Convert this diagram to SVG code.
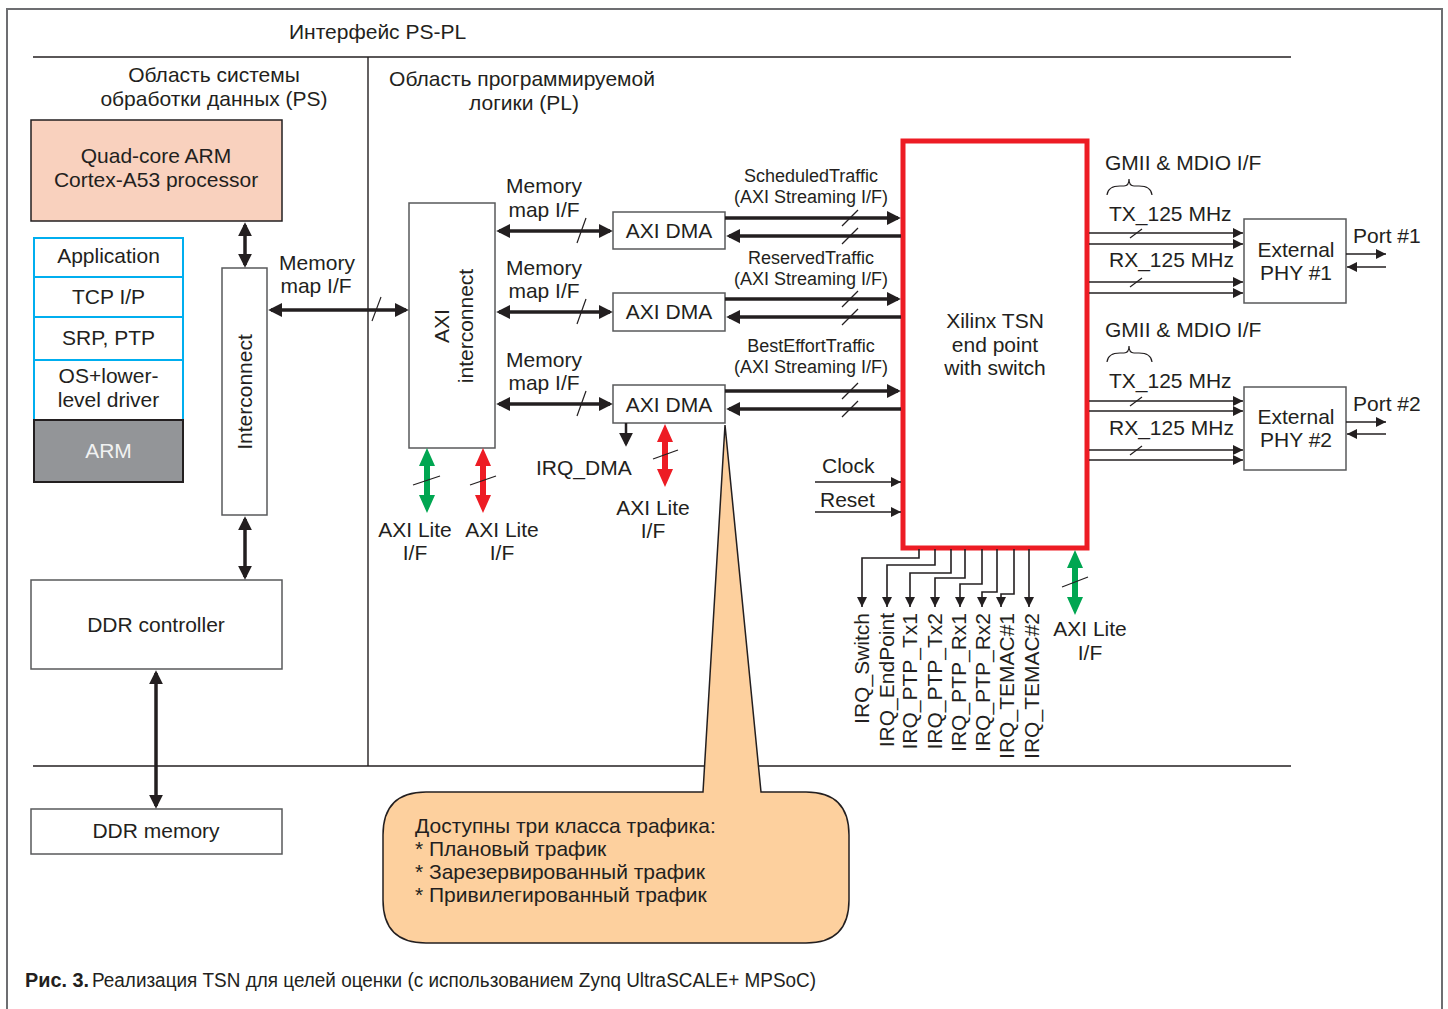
<svg xmlns="http://www.w3.org/2000/svg" width="1448" height="1009" viewBox="0 0 1448 1009">
<style>
text{font-family:"Liberation Sans",Arial,sans-serif;font-size:21px;fill:#231f20}
.m{text-anchor:middle}
.sm{font-size:18px}
.box{fill:#fff;stroke:#58595b;stroke-width:1.5}
.stk{fill:#fff;stroke:#00aeef;stroke-width:2}
.thick{stroke:#231f20;stroke-width:3.5;fill:none}
.thin{stroke:#231f20;stroke-width:1.6;fill:none}
.sl{stroke:#231f20;stroke-width:1.2;fill:none}
.frame{stroke:#6d6e71;stroke-width:2;fill:none}
.div{stroke:#231f20;stroke-width:1.4;fill:none}
</style>
<defs>
<marker id="a" viewBox="0 0 10 10" refX="8" refY="5" markerWidth="14" markerHeight="14" markerUnits="userSpaceOnUse" orient="auto-start-reverse"><path d="M0,0 L10,5 L0,10 z" fill="#231f20"/></marker>
<marker id="s" viewBox="0 0 10 10" refX="10" refY="5" markerWidth="10" markerHeight="10" markerUnits="userSpaceOnUse" orient="auto-start-reverse"><path d="M0,0 L10,5 L0,10 z" fill="#231f20"/></marker>
</defs>

<!-- frame and region lines -->
<g id="frame">
<path class="frame" d="M7,1009 L7,9 L1442,9 L1442,1009"/>
<line class="div" x1="33" y1="57" x2="1291" y2="57"/>
<line class="div" x1="368" y1="57" x2="368" y2="766"/>
<line class="div" x1="33" y1="766" x2="1291" y2="766"/>
<text x="289" y="39">Интерфейс PS-PL</text>
<text class="m" x="214" y="82">Область системы</text>
<text class="m" x="214" y="106">обработки данных (PS)</text>
<text class="m" x="522" y="86">Область программируемой</text>
<text class="m" x="524" y="110">логики (PL)</text>
</g>

<g id="quadcore">
<rect x="31" y="120" width="251" height="101" fill="#f9d1be" stroke="#231f20" stroke-width="1.5"/>
<text class="m" x="156" y="163">Quad-core ARM</text>
<text class="m" x="156" y="187">Cortex-A53 processor</text>
</g>

<g id="stack">
<rect class="stk" x="34" y="238" width="149" height="39"/>
<text class="m" x="108.5" y="263">Application</text>
<rect class="stk" x="34" y="277" width="149" height="40"/>
<text class="m" x="108.5" y="304">TCP I/P</text>
<rect class="stk" x="34" y="317" width="149" height="43"/>
<text class="m" x="108.5" y="345">SRP, PTP</text>
<rect class="stk" x="34" y="360" width="149" height="60"/>
<text class="m" x="108.5" y="383">OS+lower-</text>
<text class="m" x="108.5" y="407">level driver</text>
<rect x="34" y="420" width="149" height="62" fill="#939598" stroke="#231f20" stroke-width="2"/>
<text class="m" x="108.5" y="458" style="fill:#f1f2f2">ARM</text>
</g>

<g id="interconnect">
<rect class="box" x="222" y="268" width="45" height="247"/>
<text class="m" transform="translate(252,392) rotate(-90)">Interconnect</text>
</g>

<g id="ddrctrl">
<rect class="box" x="31" y="580" width="251" height="89"/>
<text class="m" x="156" y="632">DDR controller</text>
</g>

<g id="ddrmem">
<rect class="box" x="31" y="809" width="251" height="45"/>
<text class="m" x="156" y="838">DDR memory</text>
</g>

<g id="axiic">
<rect class="box" x="409" y="203" width="86" height="245"/>
<text class="m" transform="translate(449,326) rotate(-90)">AXI</text>
<text class="m" transform="translate(473,326) rotate(-90)">interconnect</text>
</g>

<g id="dma1">
<rect class="box" x="613" y="212" width="112" height="37"/>
<text class="m" x="669" y="238">AXI DMA</text>
</g>
<g id="dma2">
<rect class="box" x="613" y="293" width="112" height="38"/>
<text class="m" x="669" y="319">AXI DMA</text>
</g>
<g id="dma3">
<rect class="box" x="613" y="385" width="112" height="38"/>
<text class="m" x="669" y="412">AXI DMA</text>
</g>

<g id="tsn">
<rect x="903" y="141" width="184" height="407" fill="#fff" stroke="#ed1c24" stroke-width="5"/>
<text class="m" x="995" y="328">Xilinx TSN</text>
<text class="m" x="995" y="352">end point</text>
<text class="m" x="995" y="375">with switch</text>
</g>

<g id="phy1">
<rect class="box" x="1244" y="219" width="102" height="84"/>
<text class="m" x="1296" y="257">External</text>
<text class="m" x="1296" y="280">PHY #1</text>
</g>
<g id="phy2">
<rect class="box" x="1244" y="387" width="102" height="83"/>
<text class="m" x="1296" y="424">External</text>
<text class="m" x="1296" y="447">PHY #2</text>
</g>

<g id="callout">
<path d="M426,792 L703,792 L725,425 L761,792 L806,792 Q849,792 849,835 L849,900 Q849,943 806,943 L426,943 Q383,943 383,900 L383,835 Q383,792 426,792 Z" fill="#fdd09e" stroke="#231f20" stroke-width="1.5"/>
<text x="415" y="833">Доступны три класса трафика:</text>
<text x="415" y="856">* Плановый трафик</text>
<text x="415" y="879">* Зарезервированный трафик</text>
<text x="415" y="902">* Привилегированный трафик</text>
</g>

<g id="connectors">
<!-- PS side -->
<line class="thick" x1="245" y1="225" x2="245" y2="265" marker-start="url(#a)" marker-end="url(#a)"/>
<line class="thick" x1="245" y1="519" x2="245" y2="577" marker-start="url(#a)" marker-end="url(#a)"/>
<line class="thick" x1="156" y1="673" x2="156" y2="806" marker-start="url(#a)" marker-end="url(#a)"/>
<line class="thick" x1="271" y1="310" x2="406" y2="310" marker-start="url(#a)" marker-end="url(#a)"/>
<line class="sl" x1="372" y1="321" x2="381" y2="297"/>
<text class="m" x="317" y="270">Memory</text>
<text class="m" x="316" y="293">map I/F</text>

<!-- memory map PL -->
<line class="thick" x1="499" y1="231" x2="610" y2="231" marker-start="url(#a)" marker-end="url(#a)"/>
<line class="thick" x1="499" y1="312" x2="610" y2="312" marker-start="url(#a)" marker-end="url(#a)"/>
<line class="thick" x1="499" y1="404" x2="610" y2="404" marker-start="url(#a)" marker-end="url(#a)"/>
<line class="sl" x1="577" y1="243" x2="586" y2="218"/>
<line class="sl" x1="577" y1="324" x2="586" y2="299"/>
<line class="sl" x1="577" y1="416" x2="586" y2="391"/>
<text class="m" x="544" y="193">Memory</text>
<text class="m" x="544" y="217">map I/F</text>
<text class="m" x="544" y="275">Memory</text>
<text class="m" x="544" y="298">map I/F</text>
<text class="m" x="544" y="367">Memory</text>
<text class="m" x="544" y="390">map I/F</text>

<!-- traffic streams -->
<line class="thick" x1="725" y1="218" x2="898" y2="218" marker-end="url(#a)"/>
<line class="thick" x1="901" y1="236" x2="729" y2="236" marker-end="url(#a)"/>
<line class="thick" x1="725" y1="299" x2="898" y2="299" marker-end="url(#a)"/>
<line class="thick" x1="901" y1="317" x2="729" y2="317" marker-end="url(#a)"/>
<line class="thick" x1="725" y1="391" x2="898" y2="391" marker-end="url(#a)"/>
<line class="thick" x1="901" y1="409" x2="729" y2="409" marker-end="url(#a)"/>
<line class="sl" x1="842" y1="226" x2="858" y2="210"/>
<line class="sl" x1="842" y1="244" x2="858" y2="228"/>
<line class="sl" x1="842" y1="307" x2="858" y2="291"/>
<line class="sl" x1="842" y1="325" x2="858" y2="309"/>
<line class="sl" x1="842" y1="399" x2="858" y2="383"/>
<line class="sl" x1="842" y1="417" x2="858" y2="401"/>
<text class="m sm" x="811" y="182">ScheduledTraffic</text>
<text class="m sm" x="811" y="203">(AXI Streaming I/F)</text>
<text class="m sm" x="811" y="264">ReservedTraffic</text>
<text class="m sm" x="811" y="285">(AXI Streaming I/F)</text>
<text class="m sm" x="811" y="352">BestEffortTraffic</text>
<text class="m sm" x="811" y="373">(AXI Streaming I/F)</text>

<!-- AXI lite -->
<polygon fill="#00a651" points="427,448 435,466 430,466 430,495 435,495 427,513 419,495 424,495 424,466 419,466"/>
<polygon fill="#ed1c24" points="483,448 491,466 486,466 486,495 491,495 483,513 475,495 480,495 480,466 475,466"/>
<polygon fill="#ed1c24" points="665,424 673,442 668,442 668,469 673,469 665,487 657,469 662,469 662,442 657,442"/>
<polygon fill="#00a651" points="1075,550 1083,568 1078,568 1078,597 1083,597 1075,615 1067,597 1072,597 1072,568 1067,568"/>
<line class="sl" x1="413" y1="485" x2="440" y2="476"/>
<line class="sl" x1="470" y1="485" x2="496" y2="476"/>
<line class="sl" x1="653" y1="459" x2="678" y2="450"/>
<line class="sl" x1="1062" y1="587" x2="1088" y2="577"/>
<text class="m" x="415" y="537">AXI Lite</text>
<text class="m" x="415" y="560">I/F</text>
<text class="m" x="502" y="537">AXI Lite</text>
<text class="m" x="502" y="560">I/F</text>
<text class="m" x="653" y="515">AXI Lite</text>
<text class="m" x="653" y="538">I/F</text>
<text class="m" x="1090" y="636">AXI Lite</text>
<text class="m" x="1090" y="660">I/F</text>

<!-- IRQ DMA -->
<line stroke="#231f20" stroke-width="2.5" x1="626" y1="423" x2="626" y2="444" marker-end="url(#a)"/>
<text x="536" y="475">IRQ_DMA</text>

<!-- clock / reset -->
<line class="thin" x1="815" y1="482" x2="901" y2="482" marker-end="url(#s)"/>
<line class="thin" x1="815" y1="512" x2="901" y2="512" marker-end="url(#s)"/>
<text x="822" y="473">Clock</text>
<text x="820" y="507">Reset</text>

<!-- GMII -->
<text x="1105" y="170">GMII &amp; MDIO I/F</text>
<path class="sl" d="M1107,195 Q1108,186 1120,186 L1124,186 Q1129,186 1129,179 Q1129,186 1134,186 L1139,186 Q1151,186 1152,195"/>
<text x="1109" y="221">TX_125 MHz</text>
<text x="1109" y="267">RX_125 MHz</text>
<line class="thin" x1="1089" y1="233" x2="1243" y2="233" marker-end="url(#s)"/>
<line class="thin" x1="1089" y1="244" x2="1243" y2="244" marker-end="url(#s)"/>
<line class="thin" x1="1089" y1="282" x2="1243" y2="282" marker-end="url(#s)"/>
<line class="thin" x1="1089" y1="293" x2="1243" y2="293" marker-end="url(#s)"/>
<line class="sl" x1="1130" y1="238" x2="1142" y2="229"/>
<line class="sl" x1="1130" y1="287" x2="1142" y2="278"/>
<text x="1105" y="337">GMII &amp; MDIO I/F</text>
<path class="sl" d="M1107,362 Q1108,353 1120,353 L1124,353 Q1129,353 1129,346 Q1129,353 1134,353 L1139,353 Q1151,353 1152,362"/>
<text x="1109" y="388">TX_125 MHz</text>
<text x="1109" y="435">RX_125 MHz</text>
<line class="thin" x1="1089" y1="401" x2="1243" y2="401" marker-end="url(#s)"/>
<line class="thin" x1="1089" y1="411" x2="1243" y2="411" marker-end="url(#s)"/>
<line class="thin" x1="1089" y1="450" x2="1243" y2="450" marker-end="url(#s)"/>
<line class="thin" x1="1089" y1="460" x2="1243" y2="460" marker-end="url(#s)"/>
<line class="sl" x1="1130" y1="406" x2="1142" y2="397"/>
<line class="sl" x1="1130" y1="455" x2="1142" y2="446"/>

<!-- ports -->
<text x="1353" y="243">Port #1</text>
<line class="thin" x1="1346" y1="254" x2="1386" y2="254" marker-end="url(#s)"/>
<line class="thin" x1="1386" y1="267" x2="1347" y2="267" marker-end="url(#s)"/>
<text x="1353" y="411">Port #2</text>
<line class="thin" x1="1346" y1="422" x2="1386" y2="422" marker-end="url(#s)"/>
<line class="thin" x1="1386" y1="434" x2="1347" y2="434" marker-end="url(#s)"/>

<!-- IRQ lines -->
<path class="thin" d="M919,549 V558 H862 V607" marker-end="url(#s)"/>
<path class="thin" d="M935,549 V565 H887 V607" marker-end="url(#s)"/>
<path class="thin" d="M951,549 V573 H910 V607" marker-end="url(#s)"/>
<path class="thin" d="M965,549 V578 H935 V607" marker-end="url(#s)"/>
<path class="thin" d="M982,549 V584 H960 V607" marker-end="url(#s)"/>
<path class="thin" d="M997,549 V592 H982 V607" marker-end="url(#s)"/>
<path class="thin" d="M1014,549 V594 H1001 V607" marker-end="url(#s)"/>
<path class="thin" d="M1029,549 V607" marker-end="url(#s)"/>
<text transform="translate(869,613) rotate(-90)" text-anchor="end">IRQ_Switch</text>
<text transform="translate(894,613) rotate(-90)" text-anchor="end">IRQ_EndPoint</text>
<text transform="translate(917,613) rotate(-90)" text-anchor="end">IRQ_PTP_Tx1</text>
<text transform="translate(942,613) rotate(-90)" text-anchor="end">IRQ_PTP_Tx2</text>
<text transform="translate(966,613) rotate(-90)" text-anchor="end">IRQ_PTP_Rx1</text>
<text transform="translate(990,613) rotate(-90)" text-anchor="end">IRQ_PTP_Rx2</text>
<text transform="translate(1014,613) rotate(-90)" text-anchor="end">IRQ_TEMAC#1</text>
<text transform="translate(1039,613) rotate(-90)" text-anchor="end">IRQ_TEMAC#2</text>
</g>

<g id="caption">
<text x="25" y="987" textLength="64" lengthAdjust="spacingAndGlyphs" style="font-weight:bold;font-size:20px">Рис. 3.</text>
<text x="92" y="987" textLength="724" lengthAdjust="spacingAndGlyphs" style="font-size:20px">Реализация TSN для целей оценки (с использованием Zynq UltraSCALE+ MPSoC)</text>
</g>
</svg>
